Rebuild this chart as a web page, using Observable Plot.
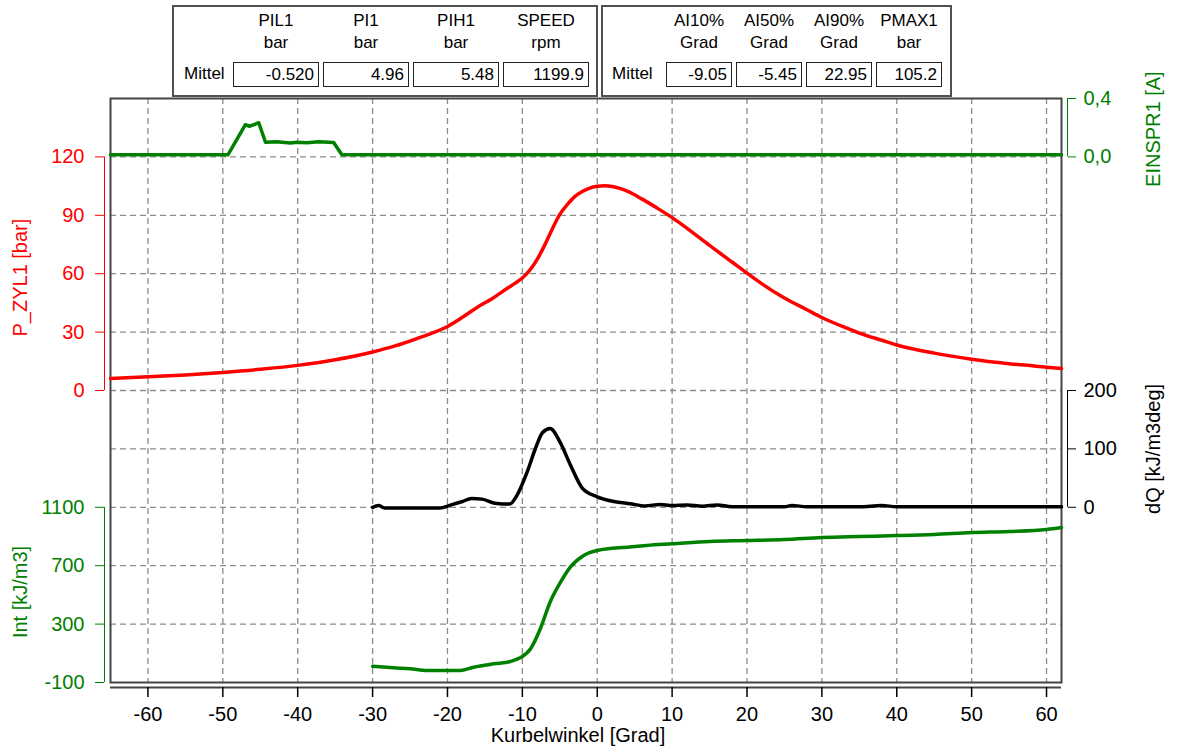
<!DOCTYPE html>
<html>
<head>
<meta charset="utf-8">
<script src="https://cdn.jsdelivr.net/npm/d3@7"></script>
<script src="https://cdn.jsdelivr.net/npm/@observablehq/plot@0.6"></script>
<style>
  html, body { margin: 0; padding: 0; background: #fff; }
  body { font-family: "Liberation Sans", Arial, sans-serif; }
  #wrap { position: relative; width: 1178px; height: 747px; overflow: hidden; }
  #header { position: relative; height: 50px; z-index: 2; }
  .box { position: absolute; border: 2px solid #505050; box-sizing: border-box; }
  .hd, .lbl, .cell { position: absolute; font-size: 17px; line-height: 20px; color: #000; white-space: nowrap; }
  .hd { text-align: center; }
  .cell { border: 1px solid #222; box-sizing: border-box; text-align: right; padding-right: 4px; line-height: 23px; }
</style>
</head>
<body>
<div id="wrap">
  <div id="header"></div>
  <div id="chart"></div>
</div>
<script>
// ---------------- data ----------------
// header table 1
const t1Names  = ["PIL1", "PI1", "PIH1", "SPEED"];
const t1Units  = ["bar", "bar", "bar", "rpm"];
const t1Values = ["-0.520", "4.96", "5.48", "1199.9"];
// header table 2
const t2Names  = ["AI10%", "AI50%", "AI90%", "PMAX1"];
const t2Units  = ["Grad", "Grad", "Grad", "bar"];
const t2Values = ["-9.05", "-5.45", "22.95", "105.2"];
const rowLabel = "Mittel";

// x axis
const xTicks = [-60, -50, -40, -30, -20, -10, 0, 10, 20, 30, 40, 50, 60];
const xDomain = [-65, 62];

// P_ZYL1 [bar]
const pAngle = [-65, -60, -55, -50, -45, -40, -35, -30, -27, -24, -22, -20, -18, -16, -14, -12, -11, -10, -9, -8, -7, -6, -5, -4, -3, -2, -1, 0, 1, 2, 3, 4, 6, 8, 10, 12, 15, 18, 20, 22, 25, 28, 30, 33, 35, 38, 40, 45, 50, 55, 60, 62];
const pBar   = [6.2, 7.0, 8.0, 9.3, 10.9, 12.9, 15.8, 19.8, 22.9, 26.8, 29.6, 32.9, 37.6, 42.8, 47.3, 52.5, 55.0, 57.8, 61.8, 67.5, 74.8, 83.0, 90.5, 95.5, 99.6, 102.2, 104.0, 104.9, 105.2, 104.8, 103.8, 102.4, 98.3, 93.7, 88.8, 83.3, 74.5, 66.0, 60.3, 54.8, 47.5, 41.5, 37.5, 32.5, 29.5, 25.8, 23.4, 19.2, 16.1, 13.8, 12.0, 11.3];

// EINSPR1 [A]
const iAngle = [-65, -49.3, -47, -46.4, -45.2, -44.3, -42.8, -41, -40.1, -38.8, -37.2, -35.2, -34.1, 62];
const iAmp   = [0.015, 0.015, 0.22, 0.21, 0.234, 0.10, 0.104, 0.095, 0.10, 0.097, 0.103, 0.098, 0.015, 0.015];

// dQ [kJ/m3deg]
const qAngle = [-30, -29.2, -28.4, -25, -21, -19.4, -18, -16.8, -15.4, -13.7, -11.7, -10.7, -9.4, -8.3, -7.3, -6.3, -4.9, -3.6, -2, 0, 2.2, 4.4, 6.4, 8.4, 10, 12, 14, 16, 18, 20, 25, 26, 28, 35, 38, 40, 50, 62];
const qVal   = [0, 3, -1, -1, -1, 4.5, 10, 15, 14, 7, 5.5, 21, 59, 99, 128, 135, 110, 73, 33, 18, 10, 6, 2.4, 5, 3, 4, 2, 4, 1, 1, 1, 3, 1, 1, 3, 1, 1, 1];

// Int [kJ/m3]
const hAngle = [-30, -27.2, -25, -22.7, -18.3, -16.5, -13.8, -11.6, -10.3, -8.9, -7.6, -6.3, -4.9, -3.6, -1.8, 0, 4, 6.6, 10, 15, 20, 25, 30, 35, 40, 45, 50, 55, 60, 62];
const hVal   = [12, 1, -6, -18, -18, 5, 28, 44, 69, 131, 268, 450, 587, 690, 770, 804, 827, 839, 850, 866, 872, 879, 893, 900, 906, 914, 927, 934, 948, 961];

// axes
const pTicks = [0, 30, 60, 90, 120];
const iTicks = [0, 0.4];
const qTicks = [0, 100, 200];
const hTicks = [-100, 300, 700, 1100];

// ---------------- header ----------------
const header = document.getElementById("header");
function el(cls, css, text) {
  const d = document.createElement("div");
  d.className = cls;
  Object.assign(d.style, css);
  if (text != null) d.textContent = text;
  header.appendChild(d);
  return d;
}
function table(boxLeft, boxWidth, labelLeft, cellLefts, cellW, names, units, values) {
  el("box", {left: boxLeft + "px", top: "5px", width: boxWidth + "px", height: "92px"});
  el("lbl", {left: labelLeft + "px", top: "64px"}, rowLabel);
  names.forEach((n, i) => {
    const l = cellLefts[i];
    el("hd", {left: l + "px", width: cellW + "px", top: "11px"}, n);
    el("hd", {left: l + "px", width: cellW + "px", top: "33px"}, units[i]);
    el("cell", {left: l + "px", width: cellW + "px", top: "62px", height: "25px"}, values[i]);
  });
}
table(172, 426, 184, [233, 323, 413, 503], 86, t1Names, t1Units, t1Values);
table(601, 351, 612, [666, 736, 806, 876], 66, t2Names, t2Units, t2Values);

// ---------------- chart ----------------
const RED = "#ff0000", GREEN = "#008000", BLACK = "#000000";
const common = {
  width: 1178, height: 697,
  marginLeft: 110, marginRight: 117, marginTop: 48, marginBottom: 65,
  style: {fontFamily: "'Liberation Sans', Arial, sans-serif", fontSize: "20px", background: "transparent", overflow: "visible"}
};
const fmt = d => String(d);
const none = () => "";

const pData = pAngle.map((a, i) => ({a, v: pBar[i]}));
const iData = iAngle.map((a, i) => ({a, v: iAmp[i]}));
const qData = qAngle.map((a, i) => ({a, v: qVal[i]}));
const hData = hAngle.map((a, i) => ({a, v: hVal[i]}));

const gridStyle = {stroke: "#8c8c8c", strokeOpacity: 1, strokeWidth: 1.3, strokeDasharray: "6,4"};

// axis helpers: tick marks shifted off the frame, labels placed by padding alone
function leftAxis(ticks, color, format) {
  return [
    Plot.axisY(ticks, {anchor: "left", tickSize: 9, dx: -6, color, label: null, tickFormat: none}),
    Plot.axisY(ticks, {anchor: "left", tickSize: 0, tickPadding: 26, color, label: null, tickFormat: format})
  ];
}
function rightAxis(ticks, color, format) {
  return [
    Plot.axisY(ticks, {anchor: "right", tickSize: 8, dx: 6, color, label: null, tickFormat: none}),
    Plot.axisY(ticks, {anchor: "right", tickSize: 0, tickPadding: 22, color, label: null, tickFormat: format})
  ];
}
const titleLeft = {frameAnchor: "left", rotate: -90, dx: -90, textAnchor: "middle", lineAnchor: "middle"};
const titleRight = {frameAnchor: "right", rotate: -90, dx: 92, textAnchor: "middle", lineAnchor: "middle"};

const base = Plot.plot({
  ...common,
  x: {domain: xDomain, axis: null},
  y: {domain: [-150, 150], axis: null},
  marks: [
    Plot.gridX(xTicks, gridStyle),
    Plot.gridY(d3.range(-120, 121, 30), gridStyle),
    Plot.frame({stroke: "#444", strokeWidth: 2}),
    Plot.ruleY([-150], {dy: 5, stroke: "#444", strokeWidth: 2}),
    Plot.axisX(xTicks, {anchor: "bottom", tickSize: 10, dy: 5, tickFormat: none, label: null, color: "#000", strokeWidth: 1.5}),
    Plot.axisX(xTicks, {anchor: "bottom", tickSize: 0, tickPadding: 24, tickFormat: fmt, label: null, color: "#000"}),
    Plot.text([{t: "Kurbelwinkel [Grad]"}], {text: "t", frameAnchor: "bottom", lineAnchor: "middle", textAnchor: "middle", dy: 53, dx: -8, fill: "#000"}),
    Plot.line(pData, {x: "a", y: "v", stroke: RED, strokeWidth: 3.5, curve: "monotone-x"}),
    Plot.ruleX([xDomain[0]], {y1: pTicks[0], y2: pTicks[pTicks.length - 1], dx: -6, stroke: RED, strokeWidth: 1}),
    ...leftAxis(pTicks, RED, fmt),
    Plot.text([{t: "P_ZYL1 [bar]", y: 58}], {text: "t", y: "y", fill: RED, ...titleLeft})
  ]
});

function layer(yDomain, marks) {
  return Plot.plot({...common, x: {domain: xDomain, axis: null}, y: {domain: yDomain, axis: null}, marks});
}

const layers = [
  layer([-3.6, 0.4], [
    Plot.line(iData, {x: "a", y: "v", stroke: GREEN, strokeWidth: 3.5}),
    Plot.ruleX([xDomain[1]], {y1: iTicks[0], y2: iTicks[1], dx: 6, stroke: GREEN, strokeWidth: 1}),
    ...rightAxis(iTicks, GREEN, d => d.toFixed(1).replace(".", ",")),
    Plot.text([{t: "EINSPR1 [A]", y: 0.19}], {text: "t", y: "y", fill: GREEN, ...titleRight})
  ]),
  layer([-300, 700], [
    Plot.line(qData, {x: "a", y: "v", stroke: BLACK, strokeWidth: 3.5, curve: "monotone-x"}),
    Plot.ruleX([xDomain[1]], {y1: qTicks[0], y2: qTicks[2], dx: 6, stroke: BLACK, strokeWidth: 1}),
    ...rightAxis(qTicks, BLACK, fmt),
    Plot.text([{t: "dQ [kJ/m3deg]", y: 100}], {text: "t", y: "y", fill: BLACK, ...titleRight})
  ]),
  layer([-100, 3900], [
    Plot.line(hData, {x: "a", y: "v", stroke: GREEN, strokeWidth: 3.5, curve: "monotone-x"}),
    Plot.ruleX([xDomain[0]], {y1: hTicks[0], y2: hTicks[3], dx: -6, stroke: GREEN, strokeWidth: 1}),
    ...leftAxis(hTicks, GREEN, fmt),
    Plot.text([{t: "Int [kJ/m3]", y: 520}], {text: "t", y: "y", fill: GREEN, ...titleLeft})
  ])
];

for (const l of layers) {
  for (const child of Array.from(l.childNodes)) {
    if (child.tagName && child.tagName.toLowerCase() === "style") continue;
    base.appendChild(child);
  }
}
base.style.background = "#fff";
document.getElementById("chart").appendChild(base);
</script>
</body>
</html>
